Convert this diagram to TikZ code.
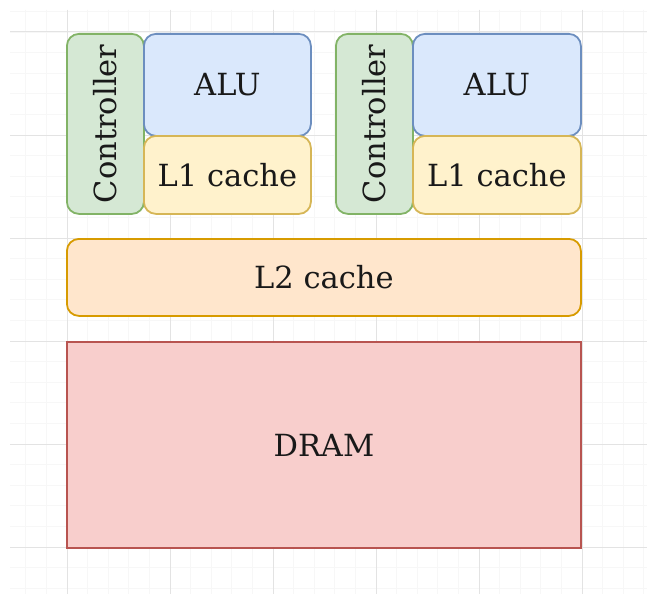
\documentclass[tikz,border=0pt]{standalone}
\usepackage{fontspec}
\setmainfont{DejaVu Serif}
\begin{document}
\begin{tikzpicture}[x=1pt,y=-1pt,
  lbl/.style={font=\fontsize{30.5}{36}\selectfont, text=black!90},
  blk/.style={draw, line width=1.8pt, rounded corners=12pt, inner sep=0pt, lbl},
  ctrl/.style={blk, fill={rgb,255:red,213;green,232;blue,212}, draw={rgb,255:red,130;green,179;blue,102}},
  alu/.style={blk, fill={rgb,255:red,218;green,232;blue,252}, draw={rgb,255:red,108;green,142;blue,191}},
  lone/.style={blk, fill={rgb,255:red,255;green,242;blue,204}, draw={rgb,255:red,214;green,182;blue,86}},
  ltwo/.style={blk, fill={rgb,255:red,255;green,230;blue,204}, draw={rgb,255:red,215;green,155;blue,0}},
  dram/.style={blk, rounded corners=0pt, fill={rgb,255:red,248;green,206;blue,204}, draw={rgb,255:red,184;green,84;blue,80}}
]
\useasboundingbox (0,0) rectangle (647,594);
\fill[white] (0,0) rectangle (647,594);
% background grid: minor lines, then major lines
\foreach \i in {-2,...,28} {
  \draw[line width=0.8pt, black!3] ({67+\i*20.6},10) -- ({67+\i*20.6},594);
}
\foreach \j in {-1,...,27} {
  \draw[line width=0.8pt, black!3] (10,{32+\j*20.6}) -- (647,{32+\j*20.6});
}
\foreach \i in {0,...,5} {
  \draw[line width=1pt, black!11] ({67+\i*103},10) -- ({67+\i*103},594);
}
\foreach \j in {0,...,5} {
  \draw[line width=1pt, black!11] (10,{32+\j*103}) -- (647,{32+\j*103});
}
% first core
\node[ctrl, minimum width=77pt, minimum height=180pt, anchor=north west] (c1) at (66,33) {};
\node[rotate=90, lbl] (c1t) at (c1.center) {Controller};
\node[alu, minimum width=167pt, minimum height=102pt, anchor=north west] (a1) at (143,33) {ALU};
\node[lone, minimum width=167pt, minimum height=78pt, anchor=north west] (l1a) at (143,135) {L1 cache};
% second core
\node[ctrl, minimum width=77pt, minimum height=180pt, anchor=north west] (c2) at (335,33) {};
\node[rotate=90, lbl] (c2t) at (c2.center) {Controller};
\node[alu, minimum width=168pt, minimum height=102pt, anchor=north west] (a2) at (412,33) {ALU};
\node[lone, minimum width=168pt, minimum height=78pt, anchor=north west] (l1b) at (412,135) {L1 cache};
% shared levels
\node[ltwo, minimum width=514pt, minimum height=77pt, anchor=north west] (l2) at (66,238) {L2 cache};
\node[dram, minimum width=514pt, minimum height=206pt, anchor=north west] (dr) at (66,341) {DRAM};
\end{tikzpicture}
\end{document}
